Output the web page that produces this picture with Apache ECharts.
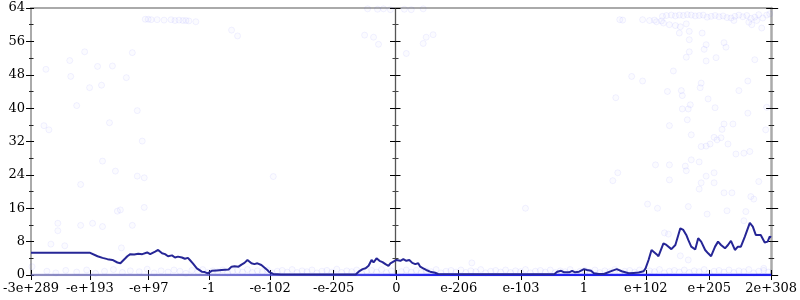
<!DOCTYPE html>
<html><head><meta charset="utf-8">
<script src="https://cdn.jsdelivr.net/npm/echarts@6/dist/echarts.min.js"></script>
<style>html,body{margin:0;padding:0;background:#fff}#c{width:800px;height:300px}</style>
</head><body><div id="c"></div>
<script>
// x positions are on the chart's ordered-float scale (0 = zero)
const tickPos = [-368, -308.8, -249.5, -188.8, -127.2, -63.2, 0, 62.8, 125.5, 188.8, 251.2, 315.2, 377.5];
const tickLabels = ['-3e+289','-e+193','-e+97','-1','-e-102','-e-205','0','e-206','e-103','1','e+102','e+205','2e+308'];
const xMin = -368, xMax = 377.5;
const yMin = 0, yMax = 64, yStep = 8;

// rolling mean line
const meanLine = [
[-368,5.35],[-309,5.35],[-308,4.9],[-301,4.5],[-296,4.1],[-291,3.8],[-286,3.6],[-281,3.0],[-278,2.8],[-276,3.2],
[-273,4.0],[-271,4.5],[-268,5.0],[-264,4.9],[-260,5.1],[-256,5.0],[-251,5.4],[-248,5.0],[-246,5.2],[-243,5.6],
[-240,6.0],[-238,5.6],[-236,5.2],[-233,5.0],[-230,4.5],[-226,4.7],[-223,4.2],[-220,4.4],[-216,4.2],[-213,3.9],
[-210,4.1],[-208,3.6],[-205,2.8],[-203,2.2],[-201,1.6],[-199,1.3],[-196,0.8],[-193,0.7],[-190,0.4],[-188,0.6],
[-186,1.0],[-181,1.1],[-176,1.2],[-169,1.3],[-166,2.0],[-163,2.1],[-159,2.0],[-156,2.5],[-153,2.9],[-150,3.6],
[-148,3.2],[-146,2.8],[-143,2.6],[-140,2.8],[-136,2.4],[-133,1.8],[-130,1.2],[-128,0.7],[-124,0.25],[-116,0.1],
[-41,0.1],[-38,0.8],[-34,1.4],[-31,1.6],[-28,2.2],[-25,3.6],[-23,3.0],[-20,4.0],[-17,3.4],[-14,3.1],
[-11,2.6],[-8,2.2],[-6,2.8],[-3,3.2],[0,3.6],[4,3.4],[7,3.8],[10,3.4],[13,3.6],[16,2.9],
[19,2.6],[22,2.8],[24,2.0],[27,1.6],[30,1.2],[34,0.8],[39,0.55],[42,0.25],[44,0.1],[159,0.2],
[162,0.8],[166,1.0],[169,0.65],[174,0.65],[177,1.0],[180,0.65],[184,0.8],[189,1.4],[192,1.2],[196,1.0],
[199,0.4],[204,0.25],[209,0.25],[217,1.0],[222,1.4],[227,0.9],[234,0.4],[239,0.5],[244,0.6],[249,0.9],
[251,1.6],[254,3.6],[257,6.0],[259,5.6],[262,5.0],[264,4.5],[269,7.6],[272,7.2],[277,6.2],[281,7.2],
[284,9.6],[286,11.2],[289,10.8],[292,9.6],[294,8.4],[297,6.8],[301,6.1],[304,8.8],[307,8.0],[311,6.0],
[314,5.2],[317,4.5],[321,6.8],[324,8.0],[327,7.2],[331,6.4],[334,7.2],[337,8.2],[341,6.0],[344,6.8],
[347,6.8],[351,9.2],[356,12.5],[359,11.6],[362,9.6],[367,9.6],[371,7.8],[374,8.0],[376,9.2],[377.5,9.0]
];

// samples exactly at zero (dense band)
const zeroLine = [[-368,0],[377.5,0]];

// individual samples
const samplePoints = [
// left, upper
[-353,49.3],[-329,51.4],[-328,47.6],[-314,53.5],[-301,50.0],[-286,50.1],[-266,53.3],[-309,44.9],[-297,45.5],[-272,47.3],
[-322,40.6],[-261,39.4],[-355,35.8],[-350,34.8],[-289,36.5],[-256,32.1],
[-253,61.3],[-250,61.3],[-247,61.2],[-241,61.2],[-234,61.1],[-227,61.2],[-223,61.0],[-219,61.1],[-215,61.0],[-212,61.0],[-209,60.9],[-202,60.7],
[-166,58.7],[-160,57.3],
// left, lower
[-296,27.3],[-283,24.9],[-261,23.7],[-254,23.3],[-318,21.7],[-254,16.2],[-281,15.3],[-278,15.6],[-341,12.4],[-341,10.6],
[-306,12.4],[-318,11.9],[-296,11.6],[-266,11.9],[-334,7.0],[-348,7.4],[-277,6.5],[-367,2.0],[-124,23.6],
// centre, top
[-32,57.5],[-23,57.0],[-18,55.3],[10,53.1],[27,55.5],[30,57.0],[37,57.6],
[-29,63.8],[-19,63.7],[-13,63.8],[-6,63.6],[8,63.7],[15,63.6],[27,63.8],
[130,16.0],[76,2.9],
// right, top cluster
[268,62.0],[272,62.2],[277,62.3],[281,62.1],[285,62.3],[289,62.2],[293,62.4],[297,62.3],[301,62.1],[305,62.2],
[309,62.3],[313,61.8],[317,62.0],[321,62.2],[325,61.9],[329,62.1],[333,61.7],[337,61.6],[341,62.0],[345,62.3],
[349,61.9],[353,62.2],[357,61.5],[361,61.8],[365,62.4],[369,61.6],[373,62.3],[376,62.6],
[260,61.1],[267,60.9],[340,61.0],[355,60.6],[363,61.0],
[225,61.2],[228,61.1],[248,61.2],[255,61.0],[262,60.7],[269,60.4],[275,60.0],[281,59.8],[286,59.5],[292,60.2],
[285,58.0],[295,58.4],[308,58.0],[295,56.4],[312,55.2],[330,55.7],[332,54.6],[295,53.5],[310,54.1],[292,52.2],
[312,51.3],[322,52.1],[361,51.6],[368,59.2],[358,60.0],[279,48.9],[237,47.6],[248,46.5],[221,42.5],[273,44.0],
[287,44.2],[288,43.0],[307,46.0],[306,44.9],[314,42.2],[345,44.2],[354,46.5],[321,40.1],[288,39.8],[294,39.8],
[296,40.8],[373,40.2],[354,38.8],[293,37.2],[275,35.8],[330,36.2],[339,36.2],[328,34.9],[372,34.8],[297,33.6],
[320,33.0],[327,32.9],[323,32.4],[334,31.4],[316,31.4],[307,30.8],[312,30.9],
// right, lower
[261,26.4],[275,26.4],[291,26.1],[292,25.0],[297,27.6],[305,27.1],[312,23.7],[320,24.5],[307,22.1],[320,22.1],
[275,22.8],[223,24.5],[218,22.6],[342,29.0],[350,29.2],[356,29.6],[365,22.4],[305,20.6],[330,19.7],[338,19.7],
[357,18.8],[360,18.2],[253,17.0],[263,16.0],[294,16.4],[313,14.6],[333,15.4],[352,15.2],[350,13.0],[270,10.1],
[274,9.8],[286,4.6],[294,3.6],[370,1.6],
// near-zero band
[-352,0.9],[-343,0.5],[-333,1.1],[-322,0.7],[-312,1.2],[-303,0.4],[-294,0.9],[-285,1.3],[-276,0.6],[-268,1.0],
[-259,0.8],[-251,1.4],[-244,0.5],[-237,1.0],[-230,0.7],[-224,1.2],[-218,0.9],[-212,0.4],[-206,1.1],[-200,0.8],
[-195,1.3],[-190,0.6],[-185,1.0],[-180,0.8],[-175,1.2],[-170,0.5],[-165,0.9],[-160,1.1],[-155,0.7],[-150,1.3],
[-145,0.6],[-140,1.0],[-135,0.8],[-130,1.2],[-125,0.5],[-120,0.9],[-115,1.1],[-110,0.7],[-105,1.3],[-100,0.6],
[-95,1.0],[-90,0.8],[-85,1.2],[-80,0.5],[-75,0.9],[-70,1.1],[-65,0.7],[-60,1.4],[-55,0.6],[-50,1.0],
[-45,0.8],[-40,1.2],[-35,0.5],[-30,0.9],[-25,1.1],[-20,0.7],[-15,1.3],[-10,0.6],[-5,1.0],[5,0.8],
[10,1.2],[15,0.7],[20,1.1],[25,0.6],[30,1.0],[35,0.8],[40,1.3],[45,0.5],[50,0.9],[55,1.1],
[60,0.7],[65,1.2],[70,0.6],[75,1.0],[80,0.8],[85,1.3],[90,0.5],[95,0.9],[100,1.1],[105,0.7],
[110,1.2],[115,0.6],[120,1.0],[125,0.8],[130,1.3],[135,0.5],[140,0.9],[145,1.1],[150,0.7],[155,1.2],
[160,0.6],[165,1.0],[170,0.8],[175,1.3],[180,0.5],[185,0.9],[190,1.1],[195,0.7],[200,1.2],[205,0.6],
[210,1.0],[215,0.8],[220,1.3],[225,0.5],[230,0.9],[235,1.1],[240,0.7],[245,1.2],[250,0.6],[255,1.0],
[260,0.8],[265,1.3],[270,0.5],[275,0.9],[280,1.1],[285,0.7],[290,1.2],[295,0.6],[300,1.0],[305,0.8],
[310,1.3],[315,0.5],[320,0.9],[325,1.1],[330,0.7],[335,1.2],[340,0.6],[345,1.0],[350,0.8],[355,1.3],
[360,0.5],[365,0.9],[370,1.1],[375,0.7]
];

const FONT = 'DejaVu Serif';
const chart = echarts.init(document.getElementById('c'), null, {renderer: 'canvas'});

function labelFor(v) {
  let best = 0, bd = Infinity;
  tickPos.forEach((p, i) => { const d = Math.abs(p - v); if (d < bd) { bd = d; best = i; } });
  return tickLabels[best];
}
const xBase = {type: 'value', min: xMin, max: xMax, splitLine: {show: false}};
const yBase = {type: 'value', min: yMin, max: yMax, interval: yStep, splitLine: {show: false}};
const tickStyle = {color: '#000', width: 1};
const minorStyle = {color: '#222', width: 1};
const noLine = {show: false, onZero: false};
const grayLine = (w) => ({show: true, onZero: false, lineStyle: {color: '#aaaaaa', width: w}});

chart.setOption({
  animation: false,
  backgroundColor: '#fff',
  grid: [
    {left: 27.5, right: 27, top: 8, bottom: 25, containLabel: false},
    {left: 395.5, width: 1, top: 8, bottom: 25, containLabel: false}
  ],
  xAxis: [
    Object.assign({}, xBase, {gridIndex: 0, position: 'bottom',
      axisLine: grayLine(2),
      axisTick: {show: true, inside: false, length: 5, customValues: tickPos, lineStyle: tickStyle},
      axisLabel: {show: true, customValues: tickPos, margin: 7, color: '#000', fontFamily: FONT, fontSize: 13,
        formatter: (v) => labelFor(v)}}),
    Object.assign({}, xBase, {gridIndex: 0, position: 'bottom',
      axisLine: noLine,
      axisTick: {show: true, inside: true, length: 5, customValues: tickPos, lineStyle: tickStyle},
      axisLabel: {show: false}}),
    Object.assign({}, xBase, {gridIndex: 0, position: 'top',
      axisLine: grayLine(2),
      axisTick: {show: false}, axisLabel: {show: false}}),
    {type: 'value', gridIndex: 1, min: 0, max: 1, show: false, axisLine: noLine}
  ],
  yAxis: [
    Object.assign({}, yBase, {gridIndex: 0, position: 'left',
      axisLine: grayLine(2),
      axisTick: {show: true, inside: false, length: 5, lineStyle: tickStyle},
      minorTick: {show: true, splitNumber: 2, length: 2, lineStyle: minorStyle},
      axisLabel: {show: true, margin: 6, color: '#000', fontFamily: FONT, fontSize: 13}}),
    Object.assign({}, yBase, {gridIndex: 0, position: 'left',
      axisLine: noLine,
      axisTick: {show: true, inside: true, length: 3, lineStyle: tickStyle},
      minorTick: {show: true, splitNumber: 2, length: 2.5, lineStyle: minorStyle},
      axisLabel: {show: false}}),
    Object.assign({}, yBase, {gridIndex: 0, position: 'right',
      axisLine: grayLine(2.5),
      axisTick: {show: true, inside: false, length: 7, lineStyle: tickStyle},
      minorTick: {show: true, splitNumber: 2, length: 3, lineStyle: minorStyle},
      axisLabel: {show: false}}),
    Object.assign({}, yBase, {gridIndex: 0, position: 'right',
      axisLine: noLine,
      axisTick: {show: true, inside: true, length: 5, lineStyle: tickStyle},
      minorTick: {show: true, splitNumber: 2, length: 2.5, lineStyle: minorStyle},
      axisLabel: {show: false}}),
    Object.assign({}, yBase, {gridIndex: 1, position: 'left',
      axisLine: {show: true, onZero: false, lineStyle: {color: '#555555', width: 1.3}},
      axisTick: {show: true, inside: false, length: 5.5, lineStyle: tickStyle},
      minorTick: {show: true, splitNumber: 2, length: 3, lineStyle: {color: '#444', width: 1}},
      axisLabel: {show: false}}),
    Object.assign({}, yBase, {gridIndex: 1, position: 'left',
      axisLine: noLine,
      axisTick: {show: true, inside: true, length: 5, lineStyle: tickStyle},
      minorTick: {show: true, splitNumber: 2, length: 3, lineStyle: {color: '#444', width: 1}},
      axisLabel: {show: false}})
  ],
  series: [
    {type: 'scatter', xAxisIndex: 0, yAxisIndex: 0, data: samplePoints, symbol: 'circle', symbolSize: 6,
      itemStyle: {color: 'rgba(70,70,255,0.03)', borderColor: 'rgba(70,70,255,0.09)', borderWidth: 1}, z: 2},
    {type: 'line', xAxisIndex: 0, yAxisIndex: 0, data: zeroLine, showSymbol: false, symbol: 'none', z: 3,
      lineStyle: {width: 2.5, color: new echarts.graphic.LinearGradient(0, 0, 1, 0, [
        {offset: 0, color: 'rgba(120,120,210,0.55)'},
        {offset: 0.22, color: 'rgba(100,100,225,0.6)'},
        {offset: 0.33, color: 'rgba(80,80,230,0.75)'},
        {offset: 0.45, color: 'rgba(50,50,235,0.9)'},
        {offset: 0.55, color: '#2424ee'},
        {offset: 1, color: '#2020f0'}])}},
    {type: 'line', xAxisIndex: 0, yAxisIndex: 0, data: meanLine, showSymbol: false, symbol: 'none', z: 4,
      lineStyle: {width: 2, color: '#262696'}}
  ]
});
</script></body></html>
